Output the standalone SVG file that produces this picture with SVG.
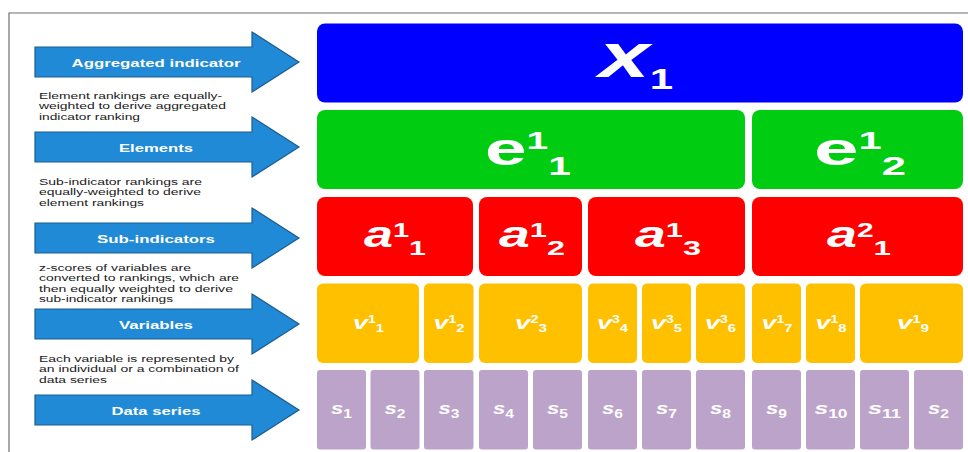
<svg xmlns="http://www.w3.org/2000/svg" width="968" height="452" viewBox="0 0 968 452">
<style>
.frame{fill:none;stroke:#6e6e6e;stroke-width:1.2}
.arrow{fill:#208ad6;stroke:#1d5c8f;stroke-width:1.2}
.alab{font-family:"Liberation Sans",Arial,sans-serif;font-weight:bold;font-size:11.7px;fill:#ffffff;text-anchor:middle}
.desc{font-family:"Liberation Sans",Arial,sans-serif;font-size:9.6px;fill:#1a1a1a}
.lab{font-family:"Liberation Sans",Arial,sans-serif;font-weight:bold;fill:#ffffff;text-anchor:middle}
.it{font-style:italic}
.blue{fill:#0000ff}
.green{fill:#00cc11}
.red{fill:#ff0000}
.yel{fill:#ffc000}
.pur{fill:#bba3c9}
</style>
<rect width="968" height="452" fill="#ffffff"/>
<path class="frame" d="M9,452 V13 H968"/>

<g id="arrows">
  <g id="arrow-aggregated">
    <path class="arrow" d="M35,47 H252 V32 L299,62 L252,92 V77 H35 Z"/>
    <text class="alab" x="156" y="66.7" textLength="169" lengthAdjust="spacingAndGlyphs">Aggregated indicator</text>
  </g>
  <g id="arrow-elements">
    <path class="arrow" d="M35,132 H252 V117 L299,147 L252,177 V162 H35 Z"/>
    <text class="alab" x="156" y="151.7" textLength="74" lengthAdjust="spacingAndGlyphs">Elements</text>
  </g>
  <g id="arrow-subindicators">
    <path class="arrow" d="M35,223 H252 V208 L299,238 L252,268 V253 H35 Z"/>
    <text class="alab" x="156" y="242.7" textLength="118" lengthAdjust="spacingAndGlyphs">Sub-indicators</text>
  </g>
  <g id="arrow-variables">
    <path class="arrow" d="M35,309 H252 V294 L299,324 L252,354 V339 H35 Z"/>
    <text class="alab" x="156" y="328.5" textLength="74" lengthAdjust="spacingAndGlyphs">Variables</text>
  </g>
  <g id="arrow-dataseries">
    <path class="arrow" d="M35,395 H252 V380 L299,410 L252,440 V425 H35 Z"/>
    <text class="alab" x="156" y="414.5" textLength="89" lengthAdjust="spacingAndGlyphs">Data series</text>
  </g>
</g>

<g id="descriptions">
  <g id="desc-1">
    <text class="desc" x="39" y="99" textLength="183" lengthAdjust="spacingAndGlyphs">Element rankings are equally-</text>
    <text class="desc" x="39" y="109.4" textLength="187" lengthAdjust="spacingAndGlyphs">weighted to derive aggregated</text>
    <text class="desc" x="39" y="119.6" textLength="101" lengthAdjust="spacingAndGlyphs">indicator ranking</text>
  </g>
  <g id="desc-2">
    <text class="desc" x="39" y="184.5" textLength="163" lengthAdjust="spacingAndGlyphs">Sub-indicator rankings are</text>
    <text class="desc" x="39" y="195" textLength="162" lengthAdjust="spacingAndGlyphs">equally-weighted to derive</text>
    <text class="desc" x="39" y="205.5" textLength="105" lengthAdjust="spacingAndGlyphs">element rankings</text>
  </g>
  <g id="desc-3">
    <text class="desc" x="39" y="270.5" textLength="152" lengthAdjust="spacingAndGlyphs">z-scores of variables are</text>
    <text class="desc" x="39" y="281" textLength="200" lengthAdjust="spacingAndGlyphs">converted to rankings, which are</text>
    <text class="desc" x="39" y="291.5" textLength="194" lengthAdjust="spacingAndGlyphs">then equally weighted to derive</text>
    <text class="desc" x="39" y="302" textLength="134" lengthAdjust="spacingAndGlyphs">sub-indicator rankings</text>
  </g>
  <g id="desc-4">
    <text class="desc" x="39" y="361.5" textLength="195" lengthAdjust="spacingAndGlyphs">Each variable is represented by</text>
    <text class="desc" x="39" y="372" textLength="200" lengthAdjust="spacingAndGlyphs">an individual or a combination of</text>
    <text class="desc" x="39" y="382.5" textLength="68" lengthAdjust="spacingAndGlyphs">data series</text>
  </g>
</g>

<g id="node-x1">
  <rect class="blue" x="317" y="23.5" width="646" height="79" rx="8"/>
  <text class="lab" x="636" y="77" textLength="74" lengthAdjust="spacingAndGlyphs"><tspan class="it" font-size="63">x</tspan><tspan font-size="29" dy="11.5">1</tspan></text>
</g>

<g id="node-e1-1">
  <rect class="green" x="317" y="110" width="428" height="79" rx="8"/>
  <text class="lab" x="528" y="165" textLength="86" lengthAdjust="spacingAndGlyphs"><tspan font-size="46">e</tspan><tspan font-size="24" dy="-16">1</tspan><tspan font-size="25" dy="26">1</tspan></text>
</g>
<g id="node-e1-2">
  <rect class="green" x="752" y="110" width="211" height="79" rx="8"/>
  <text class="lab" x="860" y="165" textLength="92" lengthAdjust="spacingAndGlyphs"><tspan font-size="46">e</tspan><tspan font-size="24" dy="-16">1</tspan><tspan font-size="25" dy="26">2</tspan></text>
</g>

<g id="node-a1-1">
  <rect class="red" x="317" y="197" width="156" height="79" rx="8"/>
  <text class="lab" x="395" y="247" textLength="62" lengthAdjust="spacingAndGlyphs"><tspan class="it" font-size="36">a</tspan><tspan font-size="20" dy="-10.5">1</tspan><tspan font-size="21" dy="18.5">1</tspan></text>
</g>
<g id="node-a1-2">
  <rect class="red" x="479" y="197" width="103" height="79" rx="8"/>
  <text class="lab" x="532" y="247" textLength="66" lengthAdjust="spacingAndGlyphs"><tspan class="it" font-size="36">a</tspan><tspan font-size="20" dy="-10.5">1</tspan><tspan font-size="21" dy="18.5">2</tspan></text>
</g>
<g id="node-a1-3">
  <rect class="red" x="588" y="197" width="157" height="79" rx="8"/>
  <text class="lab" x="668" y="247" textLength="66" lengthAdjust="spacingAndGlyphs"><tspan class="it" font-size="36">a</tspan><tspan font-size="20" dy="-10.5">1</tspan><tspan font-size="21" dy="18.5">3</tspan></text>
</g>
<g id="node-a2-1">
  <rect class="red" x="752" y="197" width="211" height="79" rx="8"/>
  <text class="lab" x="859" y="247" textLength="64" lengthAdjust="spacingAndGlyphs"><tspan class="it" font-size="36">a</tspan><tspan font-size="20" dy="-10.5">2</tspan><tspan font-size="21" dy="18.5">1</tspan></text>
</g>

<g id="node-v1-1"><rect class="yel" x="317" y="283.5" width="102" height="79.5" rx="6"/>
  <text class="lab" x="368.5" y="329" textLength="31" lengthAdjust="spacingAndGlyphs"><tspan class="it" font-size="19">v</tspan><tspan font-size="10" dy="-6">1</tspan><tspan font-size="10.5" dy="9">1</tspan></text></g>
<g id="node-v1-2"><rect class="yel" x="424" y="283.5" width="49.5" height="79.5" rx="5"/>
  <text class="lab" x="449" y="329" textLength="31" lengthAdjust="spacingAndGlyphs"><tspan class="it" font-size="19">v</tspan><tspan font-size="10" dy="-6">1</tspan><tspan font-size="10.5" dy="9">2</tspan></text></g>
<g id="node-v2-3"><rect class="yel" x="479" y="283.5" width="103" height="79.5" rx="6"/>
  <text class="lab" x="531" y="329" textLength="32" lengthAdjust="spacingAndGlyphs"><tspan class="it" font-size="19">v</tspan><tspan font-size="10" dy="-6">2</tspan><tspan font-size="10.5" dy="9">3</tspan></text></g>
<g id="node-v3-4"><rect class="yel" x="588" y="283.5" width="49" height="79.5" rx="5"/>
  <text class="lab" x="612.5" y="329" textLength="31" lengthAdjust="spacingAndGlyphs"><tspan class="it" font-size="19">v</tspan><tspan font-size="10" dy="-6">3</tspan><tspan font-size="10.5" dy="9">4</tspan></text></g>
<g id="node-v3-5"><rect class="yel" x="642" y="283.5" width="49" height="79.5" rx="5"/>
  <text class="lab" x="666.5" y="329" textLength="31" lengthAdjust="spacingAndGlyphs"><tspan class="it" font-size="19">v</tspan><tspan font-size="10" dy="-6">3</tspan><tspan font-size="10.5" dy="9">5</tspan></text></g>
<g id="node-v3-6"><rect class="yel" x="696" y="283.5" width="49" height="79.5" rx="5"/>
  <text class="lab" x="720.5" y="329" textLength="31" lengthAdjust="spacingAndGlyphs"><tspan class="it" font-size="19">v</tspan><tspan font-size="10" dy="-6">3</tspan><tspan font-size="10.5" dy="9">6</tspan></text></g>
<g id="node-v1-7"><rect class="yel" x="752" y="283.5" width="49" height="79.5" rx="5"/>
  <text class="lab" x="777" y="329" textLength="31" lengthAdjust="spacingAndGlyphs"><tspan class="it" font-size="19">v</tspan><tspan font-size="10" dy="-6">1</tspan><tspan font-size="10.5" dy="9">7</tspan></text></g>
<g id="node-v1-8"><rect class="yel" x="806" y="283.5" width="49" height="79.5" rx="5"/>
  <text class="lab" x="831" y="329" textLength="31" lengthAdjust="spacingAndGlyphs"><tspan class="it" font-size="19">v</tspan><tspan font-size="10" dy="-6">1</tspan><tspan font-size="10.5" dy="9">8</tspan></text></g>
<g id="node-v1-9"><rect class="yel" x="860" y="283.5" width="103" height="79.5" rx="6"/>
  <text class="lab" x="913" y="329" textLength="32" lengthAdjust="spacingAndGlyphs"><tspan class="it" font-size="19">v</tspan><tspan font-size="10" dy="-6">1</tspan><tspan font-size="10.5" dy="9">9</tspan></text></g>

<g id="node-s1"><rect class="pur" x="317" y="370" width="49" height="79.5" rx="3"/>
  <text class="lab" x="341.5" y="414" textLength="21" lengthAdjust="spacingAndGlyphs"><tspan class="it" font-size="17">s</tspan><tspan font-size="12" dy="4">1</tspan></text></g>
<g id="node-s2"><rect class="pur" x="370.5" y="370" width="49" height="79.5" rx="3"/>
  <text class="lab" x="395" y="414" textLength="21" lengthAdjust="spacingAndGlyphs"><tspan class="it" font-size="17">s</tspan><tspan font-size="12" dy="4">2</tspan></text></g>
<g id="node-s3"><rect class="pur" x="424" y="370" width="49.5" height="79.5" rx="3"/>
  <text class="lab" x="449" y="414" textLength="21" lengthAdjust="spacingAndGlyphs"><tspan class="it" font-size="17">s</tspan><tspan font-size="12" dy="4">3</tspan></text></g>
<g id="node-s4"><rect class="pur" x="479" y="370" width="49" height="79.5" rx="3"/>
  <text class="lab" x="503.5" y="414" textLength="21" lengthAdjust="spacingAndGlyphs"><tspan class="it" font-size="17">s</tspan><tspan font-size="12" dy="4">4</tspan></text></g>
<g id="node-s5"><rect class="pur" x="533" y="370" width="49" height="79.5" rx="3"/>
  <text class="lab" x="557.5" y="414" textLength="21" lengthAdjust="spacingAndGlyphs"><tspan class="it" font-size="17">s</tspan><tspan font-size="12" dy="4">5</tspan></text></g>
<g id="node-s6"><rect class="pur" x="588" y="370" width="49" height="79.5" rx="3"/>
  <text class="lab" x="612.5" y="414" textLength="21" lengthAdjust="spacingAndGlyphs"><tspan class="it" font-size="17">s</tspan><tspan font-size="12" dy="4">6</tspan></text></g>
<g id="node-s7"><rect class="pur" x="642" y="370" width="49" height="79.5" rx="3"/>
  <text class="lab" x="666.5" y="414" textLength="21" lengthAdjust="spacingAndGlyphs"><tspan class="it" font-size="17">s</tspan><tspan font-size="12" dy="4">7</tspan></text></g>
<g id="node-s8"><rect class="pur" x="696" y="370" width="49" height="79.5" rx="3"/>
  <text class="lab" x="720.5" y="414" textLength="21" lengthAdjust="spacingAndGlyphs"><tspan class="it" font-size="17">s</tspan><tspan font-size="12" dy="4">8</tspan></text></g>
<g id="node-s9"><rect class="pur" x="752" y="370" width="49" height="79.5" rx="3"/>
  <text class="lab" x="776.5" y="414" textLength="21" lengthAdjust="spacingAndGlyphs"><tspan class="it" font-size="17">s</tspan><tspan font-size="12" dy="4">9</tspan></text></g>
<g id="node-s10"><rect class="pur" x="806" y="370" width="49" height="79.5" rx="3"/>
  <text class="lab" x="831" y="414" textLength="33" lengthAdjust="spacingAndGlyphs"><tspan class="it" font-size="17">s</tspan><tspan font-size="12" dy="4">10</tspan></text></g>
<g id="node-s11"><rect class="pur" x="860" y="370" width="49" height="79.5" rx="3"/>
  <text class="lab" x="884.5" y="414" textLength="33" lengthAdjust="spacingAndGlyphs"><tspan class="it" font-size="17">s</tspan><tspan font-size="12" dy="4">11</tspan></text></g>
<g id="node-s2b"><rect class="pur" x="914" y="370" width="49" height="79.5" rx="3"/>
  <text class="lab" x="938.5" y="414" textLength="21" lengthAdjust="spacingAndGlyphs"><tspan class="it" font-size="17">s</tspan><tspan font-size="12" dy="4">2</tspan></text></g>
</svg>
